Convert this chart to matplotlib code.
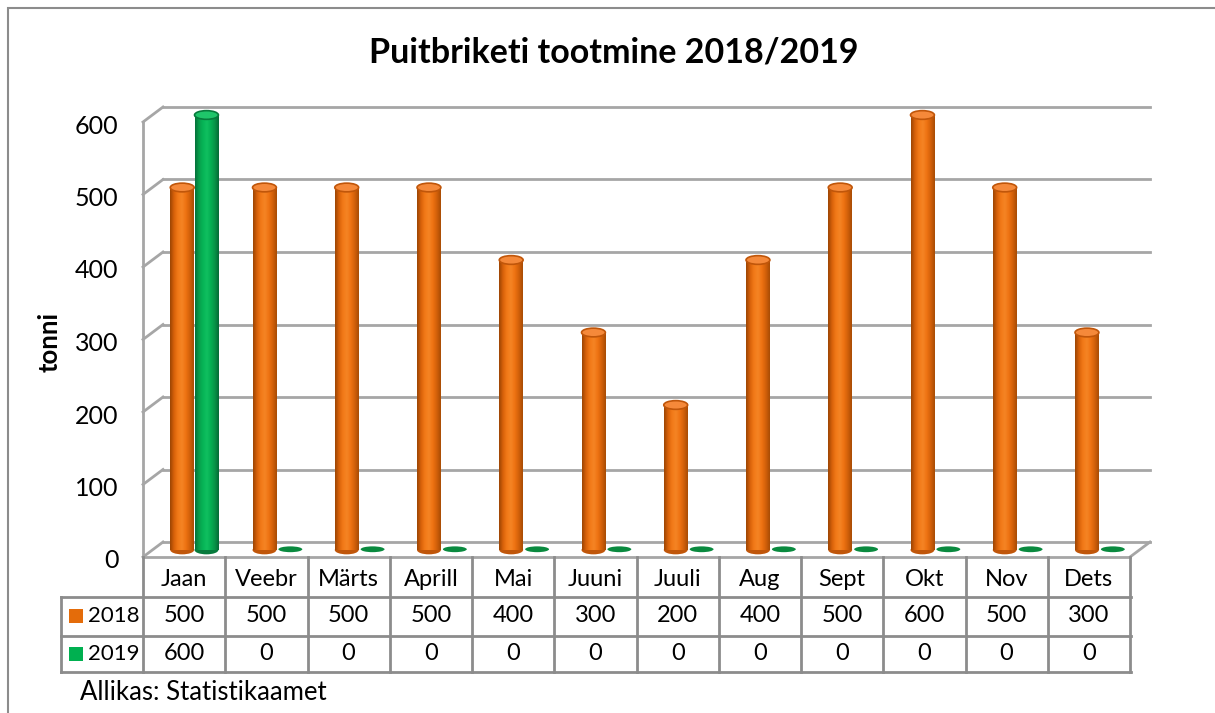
import numpy as np
import matplotlib
matplotlib.use("Agg")
import matplotlib.pyplot as plt
from matplotlib.colors import LinearSegmentedColormap
from matplotlib.patches import Ellipse, Rectangle
import matplotlib.transforms as mtransforms

months = ["Jaan", "Veebr", "Märts", "Aprill", "Mai", "Juuni", "Juuli",
          "Aug", "Sept", "Okt", "Nov", "Dets"]
vals_2018 = [500, 500, 500, 500, 400, 300, 200, 400, 500, 600, 500, 300]
vals_2019 = [600, 0, 0, 0, 0, 0, 0, 0, 0, 0, 0, 0]
series_names = ["2018", "2019"]
yticks = [0, 100, 200, 300, 400, 500, 600]

W, H = 1215, 713
plt.rcParams['font.family'] = ['Lato', 'DejaVu Sans']

fig = plt.figure(figsize=(W / 100, H / 100), dpi=100)

# outer chart border (left/top visible)
fig.patches.append(Rectangle((8 / W, -0.1), 1.2, (H - 8) / H + 0.1,
                             transform=fig.transFigure, fill=False,
                             edgecolor="#8c8c8c", lw=1.5))

# axes = middle depth plane of the pseudo 3d chart
ax = fig.add_axes([153 / W, (H - 550) / H, (1140 - 153) / W, (550 - 115) / H])
ax.set_xlim(-0.5, 11.5)
ax.set_ylim(0, 600)
for s in ax.spines.values():
    s.set_visible(False)
ax.patch.set_alpha(0)
ax.set_xticks([])
ax.set_yticks(yticks)
ax.tick_params(axis="y", length=0, pad=25, labelsize=18)

def shift(dx, dy):
    return mtransforms.ScaledTranslation(dx / 100, dy / 100, fig.dpi_scale_trans)

for lab in ax.get_yticklabels():
    lab.set_transform(lab.get_transform() + shift(0, -9))

back = ax.transData + shift(10, 8)
front = ax.transData + shift(-10, -7)
gcol = "#a6a6a6"

# back wall gridlines and left diagonals
for v in yticks:
    ax.plot([-0.5, 11.5], [v, v], color=gcol, lw=2, transform=back,
            zorder=1, clip_on=False)
    p0 = front.transform((-0.5, v))
    p1 = back.transform((-0.5, v))
    ax.plot([p0[0], p1[0]], [p0[1], p1[1]], color=gcol, lw=2,
            transform=None, zorder=1, clip_on=False)
# floor
ax.plot([-0.5, 11.5], [0, 0], color=gcol, lw=2, transform=front, zorder=1,
        clip_on=False)
p0 = front.transform((11.5, 0))
p1 = back.transform((11.5, 0))
ax.plot([p0[0], p1[0]], [p0[1], p1[1]], color=gcol, lw=2, transform=None,
        zorder=1, clip_on=False)
# left wall
ax.plot([-0.5, -0.5], [0, 600], color=gcol, lw=2, transform=front, zorder=1,
        clip_on=False)

# cylinders
orange_cm = LinearSegmentedColormap.from_list(
    "o", ["#9c4504", "#d9620a", "#f27a18", "#f58525", "#ee7212", "#d2600a", "#a84c05"])
green_cm = LinearSegmentedColormap.from_list(
    "g", ["#05703a", "#08a04c", "#06b456", "#10c060", "#05ae52", "#089448", "#056a36"])
grad = np.linspace(0, 1, 64).reshape(1, -1)

bw = 0.29
ell_h = 12
series = [(vals_2018, -0.145, orange_cm, "#f5893a", "#c0560a"),
          (vals_2019, 0.15, green_cm, "#1fc56a", "#077a3c")]
for vals, off, cm, topc, edgec in series:
    for i, v in enumerate(vals):
        xc = i + off
        if v > 0:
            ax.add_patch(Ellipse((xc, 0), bw, ell_h, facecolor=edgec,
                                 edgecolor="none", zorder=3, clip_on=False))
            ax.imshow(grad, extent=[xc - bw / 2, xc + bw / 2, 0, v],
                      aspect="auto", cmap=cm, interpolation="bicubic",
                      zorder=4, clip_on=False)
            ax.add_patch(Ellipse((xc, v), bw, ell_h, facecolor=topc,
                                 edgecolor=edgec, lw=1.2, zorder=5,
                                 clip_on=False))
        else:
            ax.add_patch(Ellipse((xc + 0.02, 1), bw, 8, facecolor="#0a8a3f",
                                 edgecolor="none", zorder=3, clip_on=False))
ax.set_xlim(-0.5, 11.5)
ax.set_ylim(0, 600)

fy = lambda py: 1 - py / H

fig.text(614 / W, fy(52), "Puitbriketi tootmine 2018/2019", fontsize=24.5,
         fontweight="bold", ha="center", va="center")
fig.text(50 / W, fy(342), "tonni", rotation=90, fontsize=18.5,
         fontweight="bold", ha="center", va="center")

# data table below the floor
tx = mtransforms.blended_transform_factory(front, fig.transFigure)
tcol = "#8c8c8c"
rows_y = [557, 597, 636, 672]
for i in range(13):
    ax.plot([i - 0.5, i - 0.5], [fy(557), fy(672)], color=tcol, lw=2,
            transform=tx, clip_on=False)
for py in rows_y[1:]:
    ax.plot([61, 1131], [H - py, H - py], color=tcol, lw=2,
            transform=None, clip_on=False)
ax.plot([61, 61], [H - 597, H - 672], color=tcol, lw=2, transform=None,
        clip_on=False)

fs = 17
for i, m in enumerate(months):
    ax.text(i, fy(580), m, transform=tx, ha="center", va="center", fontsize=fs)
    ax.text(i, fy(616), str(vals_2018[i]), transform=tx, ha="center",
            va="center", fontsize=fs)
    ax.text(i, fy(654), str(vals_2019[i]), transform=tx, ha="center",
            va="center", fontsize=fs)

for k, (name, col) in enumerate(zip(series_names, ["#e46c0a", "#00b050"])):
    cy = [616, 654][k]
    fig.patches.append(Rectangle((69 / W, fy(cy + 7)), 14 / W, 14 / H,
                                 transform=fig.transFigure, facecolor=col,
                                 edgecolor="none"))
    fig.text(88 / W, fy(cy), name, fontsize=16, ha="left", va="center")

fig.text(80 / W, fy(693), "Allikas: Statistikaamet", fontsize=18.5,
         ha="left", va="center")

fig.savefig("out.png", dpi=100)
